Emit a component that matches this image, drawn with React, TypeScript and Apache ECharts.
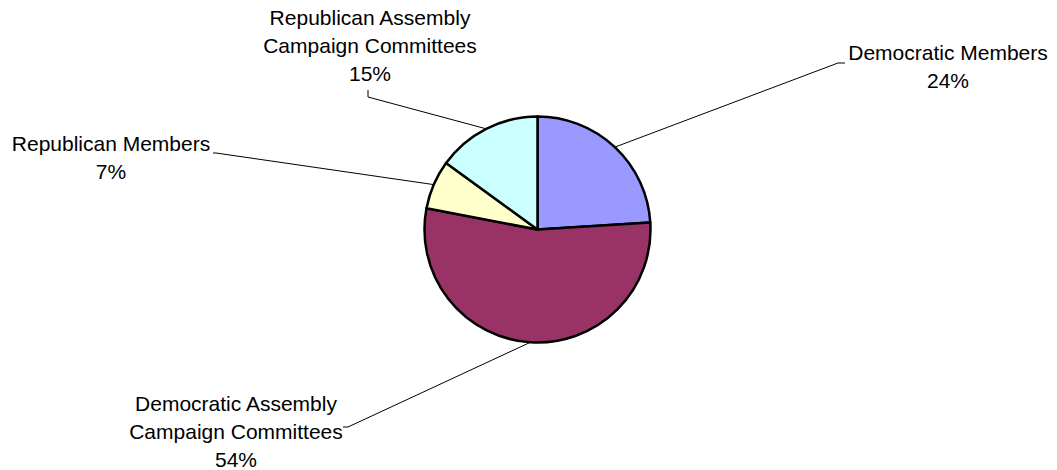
import React, { useEffect, useRef } from "react";
import * as echarts from "echarts";

const categories = [
  "Democratic Members",
  "Democratic Assembly Campaign Committees",
  "Republican Members",
  "Republican Assembly Campaign Committees",
];
const values = [24, 54, 7, 15];
const colors = ["#9999FF", "#993366", "#FFFFCC", "#CCFFFF"];

// label anchor (center x, top y) and leader bend points per slice
const labelPos: [number, number][] = [
  [948, 38],
  [236, 389],
  [111, 129],
  [370, 3],
];
const leaderBend: [number, number][][] = [
  [[838, 63], [845, 63]],
  [[348, 427], [343, 427]],
  [[216, 153], [213, 153]],
  [[368, 97], [368, 90]],
];

export default function App() {
  const ref = useRef<HTMLDivElement>(null);
  useEffect(() => {
    if (!ref.current) return;
    const chart = echarts.init(ref.current, null, { renderer: "svg" });
    chart.setOption({
      animation: false,
      backgroundColor: "#ffffff",
      series: [
        {
          type: "pie",
          center: [537.5, 229.5],
          radius: 113,
          startAngle: 90,
          clockwise: true,
          avoidLabelOverlap: false,
          data: categories.map((c, i) => ({
            name: c,
            value: values[i],
            itemStyle: { color: colors[i] },
          })),
          itemStyle: { borderColor: "#000", borderWidth: 2.5 },
          label: {
            show: true,
            position: "outside",
            color: "#000",
            fontFamily: "Liberation Sans, Arial, sans-serif",
            fontSize: 21,
            lineHeight: 28,
            align: "center",
            formatter: (p: any) =>
              p.name.replace(" Campaign", "\nCampaign") +
              "\n" +
              Math.round(p.percent) +
              "%",
          },
          labelLine: {
            show: true,
            lineStyle: { color: "#000", width: 1 },
          },
          emphasis: { disabled: true },
          labelLayout: (params: any) => {
            const i = params.dataIndex;
            const start =
              params.labelLinePoints && params.labelLinePoints[0]
                ? params.labelLinePoints[0]
                : [537.5, 229.5];
            return {
              x: labelPos[i][0],
              y: labelPos[i][1],
              align: "center",
              verticalAlign: "top",
              labelLinePoints: [start, leaderBend[i][0], leaderBend[i][1]],
            };
          },
        },
      ],
    });
    return () => chart.dispose();
  }, []);
  return (
    <div
      ref={ref}
      style={{ position: "fixed", left: 0, top: 0, width: 1057, height: 470 }}
    />
  );
}
